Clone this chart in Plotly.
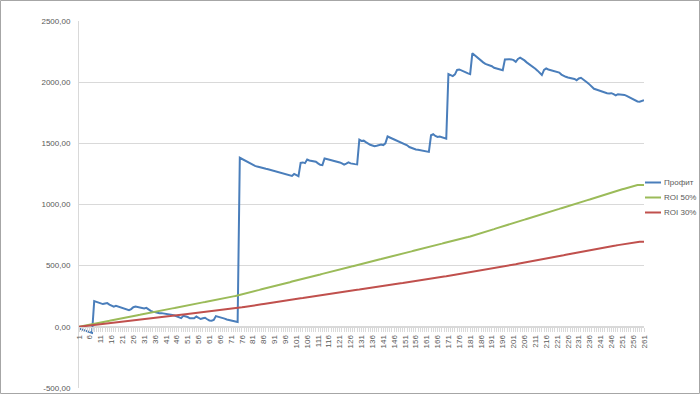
import plotly.graph_objects as go

profit = [
    -14, -20, -26, -32, -38, -44, -50, 210, 205, 200,
    194, 186, 190, 194, 182, 172, 165, 172, 165, 158,
    154, 148, 140, 136, 145, 160, 166, 162, 158, 155,
    150, 155, 140, 130, 124, 118, 112, 112, 112, 110,
    108, 104, 100, 96, 92, 86, 82, 71, 90, 86,
    80, 70, 68, 70, 84, 74, 64, 70, 74, 62,
    52, 50, 56, 88, 84, 78, 72, 67, 60, 56,
    52, 48, 44, 40, 1382, 1372, 1368, 1356, 1344, 1336,
    1322, 1316, 1310, 1304, 1300, 1296, 1292, 1288, 1283, 1278,
    1274, 1270, 1265, 1260, 1256, 1250, 1244, 1240, 1234, 1250,
    1240, 1232, 1340, 1344, 1338, 1368, 1360, 1356, 1352, 1350,
    1336, 1324, 1322, 1376, 1372, 1368, 1364, 1358, 1352, 1348,
    1344, 1336, 1326, 1334, 1344, 1336, 1330, 1330, 1328, 1530,
    1520, 1522, 1510, 1496, 1488, 1482, 1476, 1480, 1488, 1490,
    1486, 1500, 1556, 1548, 1542, 1536, 1528, 1522, 1514, 1504,
    1496, 1484, 1470, 1462, 1458, 1450, 1448, 1444, 1444, 1440,
    1434, 1430, 1566, 1574, 1560, 1552, 1556, 1552, 1544, 1538,
    2066, 2058, 2050, 2064, 2100, 2104, 2098, 2090, 2080, 2072,
    2066, 2236, 2220, 2206, 2190, 2176, 2162, 2150, 2144, 2138,
    2130, 2118, 2114, 2110, 2106, 2098, 2186, 2190, 2188, 2186,
    2180, 2166, 2190, 2200, 2192, 2178, 2162, 2150, 2140, 2128,
    2110, 2094, 2072, 2058, 2100, 2112, 2104, 2098, 2095, 2092,
    2086, 2078, 2062, 2050, 2044, 2038, 2034, 2032, 2026, 2016,
    2030, 2036, 2024, 2010, 1996, 1980, 1960, 1946, 1940, 1934,
    1926, 1918, 1912, 1910, 1908, 1910, 1902, 1892, 1902, 1900,
    1902, 1896, 1888, 1878, 1868, 1860, 1850, 1842, 1840, 1844,
    1852,
]

roi50 = [
    0, 4, 7, 11, 14, 18, 21, 25, 28, 32,
    35, 39, 42, 46, 49, 53, 56, 60, 63, 67,
    70, 74, 77, 81, 84, 88, 91, 95, 98, 102,
    105, 109, 112, 116, 119, 123, 126, 130, 133, 137,
    140, 144, 147, 151, 154, 158, 161, 165, 168, 172,
    175, 179, 182, 186, 189, 193, 196, 200, 203, 207,
    210, 214, 217, 221, 224, 228, 231, 235, 238, 242,
    245, 249, 252, 256, 262, 266, 271, 275, 280, 284,
    289, 293, 298, 302, 307, 311, 316, 320, 325, 329,
    334, 338, 343, 347, 352, 356, 361, 365, 370, 374,
    379, 383, 388, 392, 397, 401, 406, 410, 415, 419,
    424, 428, 433, 437, 442, 446, 451, 455, 460, 464,
    469, 473, 478, 482, 487, 491, 496, 500, 505, 509,
    514, 518, 523, 527, 532, 536, 541, 545, 550, 554,
    559, 563, 568, 572, 577, 581, 586, 590, 595, 599,
    604, 608, 613, 617, 622, 626, 631, 635, 640, 644,
    649, 653, 658, 662, 667, 671, 676, 680, 685, 689,
    694, 698, 703, 707, 712, 716, 721, 725, 730, 734,
    739, 744, 750, 755, 761, 766, 772, 777, 783, 788,
    794, 799, 805, 810, 816, 821, 827, 832, 838, 843,
    849, 854, 860, 865, 871, 876, 882, 887, 893, 898,
    904, 909, 915, 920, 926, 931, 937, 942, 948, 953,
    959, 964, 970, 975, 981, 986, 992, 997, 1003, 1008,
    1014, 1019, 1025, 1030, 1036, 1041, 1047, 1052, 1058, 1063,
    1069, 1074, 1080, 1085, 1091, 1096, 1102, 1107, 1113, 1118,
    1124, 1129, 1135, 1140, 1146, 1151, 1157, 1160, 1160, 1160,
    1160,
]

roi30 = [
    0, 2, 4, 7, 8, 11, 13, 15, 17, 19,
    21, 23, 25, 28, 29, 32, 34, 36, 38, 40,
    42, 44, 46, 49, 50, 53, 55, 57, 59, 61,
    63, 65, 67, 70, 71, 74, 76, 78, 80, 82,
    84, 86, 88, 91, 92, 95, 97, 99, 101, 103,
    105, 107, 109, 112, 113, 116, 118, 120, 122, 124,
    126, 128, 130, 133, 134, 137, 139, 141, 143, 145,
    147, 149, 151, 154, 157, 160, 163, 165, 168, 170,
    173, 176, 179, 181, 184, 187, 190, 192, 195, 197,
    200, 203, 206, 208, 211, 214, 217, 219, 222, 224,
    227, 230, 233, 235, 238, 241, 244, 246, 249, 251,
    254, 257, 260, 262, 265, 268, 271, 273, 276, 278,
    281, 284, 287, 289, 292, 295, 298, 300, 303, 305,
    308, 311, 314, 316, 319, 322, 325, 327, 330, 332,
    335, 338, 341, 343, 346, 349, 352, 354, 357, 359,
    362, 365, 368, 370, 373, 376, 379, 381, 384, 386,
    389, 392, 395, 397, 400, 403, 406, 408, 411, 413,
    416, 419, 422, 424, 427, 430, 433, 435, 438, 440,
    443, 446, 450, 453, 457, 460, 463, 466, 470, 473,
    476, 479, 483, 486, 490, 493, 496, 499, 503, 506,
    509, 512, 516, 519, 523, 526, 529, 532, 536, 539,
    542, 545, 549, 552, 556, 559, 562, 565, 569, 572,
    575, 578, 582, 585, 589, 592, 595, 598, 602, 605,
    608, 611, 615, 618, 622, 625, 628, 631, 635, 638,
    641, 644, 648, 651, 655, 658, 661, 664, 668, 671,
    674, 677, 681, 684, 688, 691, 694, 696, 696, 696,
    696,
]

categories = list(range(1, len(profit) + 1))
y_tickvals = [-500, 0, 500, 1000, 1500, 2000, 2500]
y_ticktext = ["-500,00", "0,00", "500,00", "1000,00", "1500,00", "2000,00", "2500,00"]
x_tickvals = list(range(1, len(profit) + 1, 5))
x_ticktext = [str(v) for v in x_tickvals]

names = ["Профит", "ROI 50%", "ROI 30%"]
colors = ["#4A7EBB", "#9BBB59", "#C0504D"]

W, H = 700, 394
ml, mr, mt, mb = 79, 56, 21, 6
pw, ph = W - ml - mr, H - mt - mb


def px_x(p):
    return (p - ml) / pw


def px_y(p):
    return (H - mb - p) / ph


fig = go.Figure()
for name, vals, col in zip(names, [profit, roi50, roi30], colors):
    fig.add_trace(go.Scatter(x=categories, y=vals, mode="lines", name=name,
                             line=dict(color=col, width=2)))

# legend drawn as line samples + real text labels (Excel-style compact legend)
legend_y = [182.5, 197.5, 212.5]
shapes = [dict(type="rect", xref="paper", yref="paper",
               x0=px_x(0.5), x1=px_x(W - 0.5), y0=px_y(H - 0.5), y1=px_y(0.5),
               line=dict(color="#a6a6a6", width=1), fillcolor="rgba(0,0,0,0)", layer="below")]
annotations = []
for name, col, ly in zip(names, colors, legend_y):
    shapes.append(dict(type="line", xref="paper", yref="paper",
                       x0=px_x(645), x1=px_x(661), y0=px_y(ly), y1=px_y(ly),
                       line=dict(color=col, width=2)))
    annotations.append(dict(xref="paper", yref="paper", x=px_x(662), y=px_y(ly),
                            xanchor="left", yanchor="middle", showarrow=False, text=name,
                            font=dict(size=8, color="#595959")))

fig.update_layout(
    width=W, height=H,
    margin=dict(l=ml, r=mr, t=mt, b=mb, autoexpand=False),
    paper_bgcolor="white", plot_bgcolor="white",
    font=dict(family="Liberation Sans, Arial", size=8, color="#595959"),
    showlegend=False,
    xaxis=dict(range=[1, len(profit)], anchor="free", position=500 / 3000,
               tickmode="array", tickvals=x_tickvals, ticktext=x_ticktext,
               tickangle=-90, showgrid=False, zeroline=False, automargin=False,
               showline=True, linecolor="#d9d9d9", linewidth=1,
               ticks="outside", ticklen=4, tickcolor="#d9d9d9",
               minor=dict(dtick=1, tick0=1, ticks="outside", ticklen=4, tickcolor="#d9d9d9"),
               tickfont=dict(size=8, color="#595959")),
    yaxis=dict(range=[-500, 2500], tickmode="array", tickvals=y_tickvals, ticktext=y_ticktext,
               showgrid=True, gridcolor="#d9d9d9", gridwidth=1, zeroline=False, automargin=False,
               showline=True, linecolor="#d9d9d9", linewidth=1,
               ticks="", ticklabelstandoff=6,
               tickfont=dict(size=8, color="#595959")),
    shapes=shapes,
    annotations=annotations,
)

fig.write_html("out.html")
